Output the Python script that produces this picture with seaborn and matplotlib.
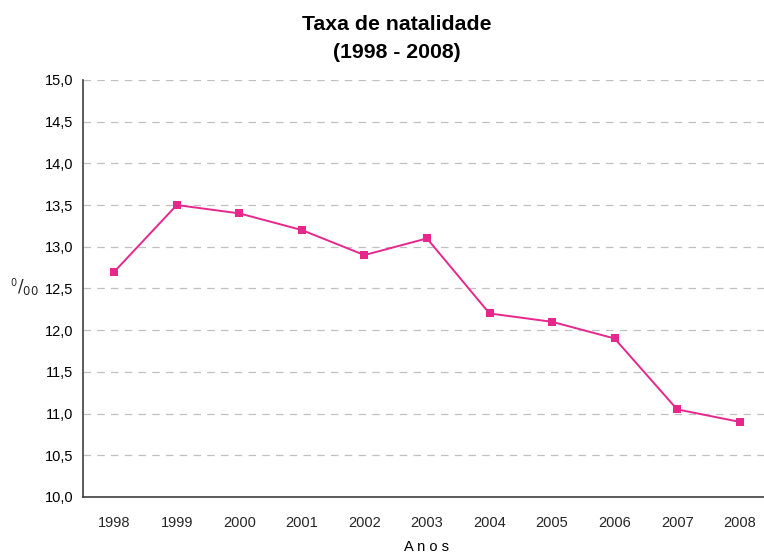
import pandas as pd
import seaborn as sns
import matplotlib.pyplot as plt
from matplotlib.ticker import FuncFormatter

# Values
anos = ["1998", "1999", "2000", "2001", "2002", "2003",
        "2004", "2005", "2006", "2007", "2008"]
taxa = [12.7, 13.5, 13.4, 13.2, 12.9, 13.1, 12.2, 12.1, 11.9, 11.05, 10.9]

df = pd.DataFrame({"ano": anos, "taxa": taxa})

sns.set_style("white")
plt.rcParams["font.family"] = ["Liberation Sans", "DejaVu Sans"]

fig = plt.figure(figsize=(7.64, 5.59), dpi=100)
ax = fig.add_axes([0.1086, 0.111, 0.9005, 0.746])

sns.lineplot(data=df, x="ano", y="taxa", ax=ax, color="#E6288C",
             marker="s", markersize=6, markeredgewidth=0, linewidth=1.4)

ax.set_ylim(10.0, 15.0)
ax.set_xlim(-0.5, 10.5)
ax.set_yticks([10 + 0.5 * i for i in range(11)])
ax.yaxis.set_major_formatter(FuncFormatter(lambda v, p: f"{v:.1f}".replace(".", ",")))
ax.grid(axis="y", linestyle=(0, (6, 5)), color="#c0c0c0", linewidth=0.9)
ax.set_axisbelow(True)

# ticks between categories, labels centred
ax.set_xticks([i - 0.5 for i in range(len(anos) + 1)])
ax.set_xticklabels([])
ax.set_xticks(range(len(anos)), minor=True)
ax.set_xticklabels(anos, minor=True)
ax.tick_params(axis="x", which="major", length=5, width=1, color="#404040", direction="out")
ax.tick_params(axis="x", which="minor", length=0, labelsize=10.5, pad=14)
ax.tick_params(axis="y", length=4, width=1, color="#404040", direction="out", labelsize=10.5, pad=3)
ax.tick_params(axis="both", colors="#404040", labelcolor="black")

for s in ["top", "right"]:
    ax.spines[s].set_visible(False)
for s in ["left", "bottom"]:
    ax.spines[s].set_color("#404040")
    ax.spines[s].set_linewidth(1.2)

ax.set_xlabel("A n o s", fontsize=10.5, labelpad=7, color="black")
ax.set_ylabel("")
fig.text(0.013, 0.49, r"$^{0}$", fontsize=10, ha="left", va="center")
fig.text(0.037, 0.487, r"$/_{00}$", fontsize=12, ha="center", va="center")
ax.set_title("Taxa de natalidade\n(1998 - 2008)", fontsize=15.3, fontweight="bold", pad=16,
             linespacing=1.55, color="black",
             x=(397 - 83) / (0.9005 * 764))

fig.savefig("out.png", dpi=100)
plt.close()
